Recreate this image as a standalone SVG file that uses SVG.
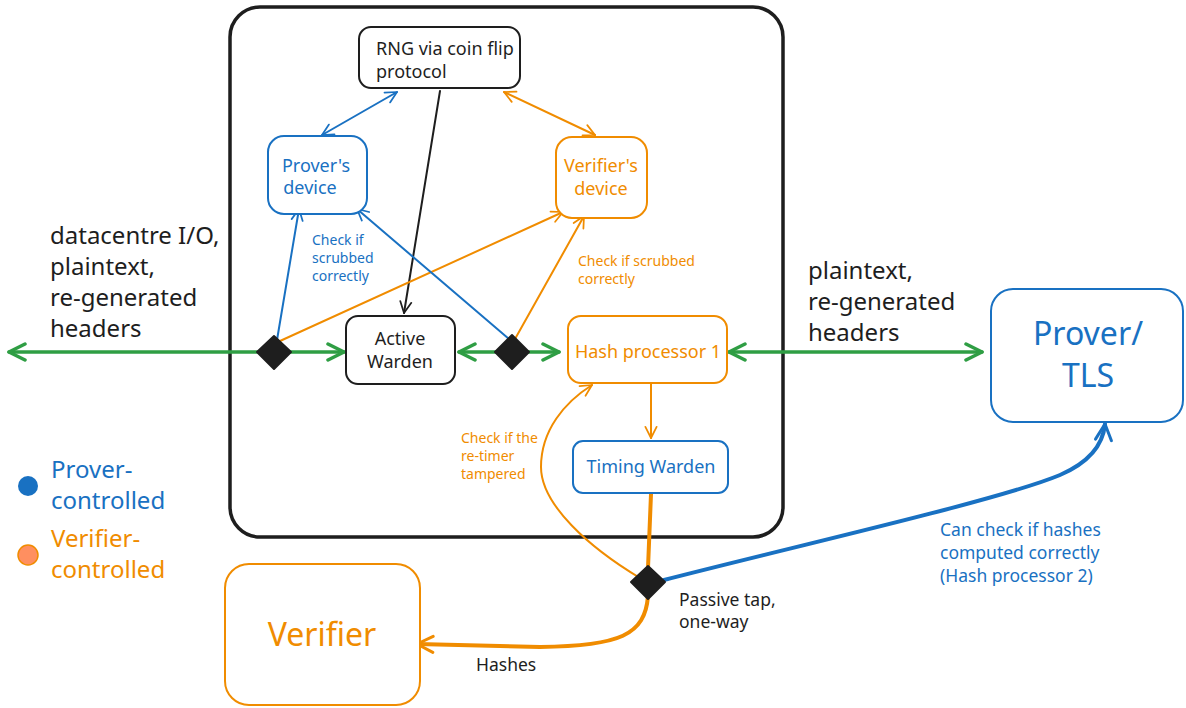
<svg xmlns="http://www.w3.org/2000/svg" width="1186" height="708" viewBox="0 0 1186 708">
<style>
text{font-family:"Noto Sans","Open Sans",sans-serif;}
.k{fill:#1e1e1e}.b{fill:#1971c2}.o{fill:#f08c00}
.box{fill:#fff;stroke-width:2}
.kb{stroke:#1e1e1e}.bb{stroke:#1971c2}.ob{stroke:#f08c00}
.ln{fill:none;stroke-linecap:round;stroke-linejoin:round}
.m{font-size:18px}.s{font-size:14px}.t{font-size:17.5px}.l{font-size:24px}.xl{font-size:32px}
.c{text-anchor:middle}
</style>
<defs>
<marker id="ag" viewBox="0 0 20 20" refX="18" refY="10" markerWidth="20" markerHeight="20" markerUnits="userSpaceOnUse" orient="auto-start-reverse"><path d="M2,2 L18,10 L2,18" fill="none" stroke="#2f9e44" stroke-width="3.5" stroke-linecap="round" stroke-linejoin="round"/></marker>
<marker id="ab" viewBox="0 0 20 20" refX="18" refY="10" markerWidth="14" markerHeight="14" markerUnits="userSpaceOnUse" orient="auto-start-reverse"><path d="M2,2 L18,10 L2,18" fill="none" stroke="#1971c2" stroke-width="2.5" stroke-linecap="round" stroke-linejoin="round"/></marker>
<marker id="ao" viewBox="0 0 20 20" refX="18" refY="10" markerWidth="14" markerHeight="14" markerUnits="userSpaceOnUse" orient="auto-start-reverse"><path d="M2,2 L18,10 L2,18" fill="none" stroke="#f08c00" stroke-width="2.5" stroke-linecap="round" stroke-linejoin="round"/></marker>
<marker id="ak" viewBox="0 0 20 20" refX="18" refY="10" markerWidth="14" markerHeight="14" markerUnits="userSpaceOnUse" orient="auto-start-reverse"><path d="M2,2 L18,10 L2,18" fill="none" stroke="#1e1e1e" stroke-width="2.5" stroke-linecap="round" stroke-linejoin="round"/></marker>
<marker id="aob" viewBox="0 0 20 20" refX="18" refY="10" markerWidth="20" markerHeight="20" markerUnits="userSpaceOnUse" orient="auto-start-reverse"><path d="M2,2 L18,10 L2,18" fill="none" stroke="#f08c00" stroke-width="3" stroke-linecap="round" stroke-linejoin="round"/></marker>
<marker id="abb" viewBox="0 0 20 20" refX="18" refY="10" markerWidth="20" markerHeight="20" markerUnits="userSpaceOnUse" orient="auto-start-reverse"><path d="M2,2 L18,10 L2,18" fill="none" stroke="#1971c2" stroke-width="3" stroke-linecap="round" stroke-linejoin="round"/></marker>
</defs>

<g id="container"><rect x="230" y="7" width="553" height="530" rx="30" fill="none" stroke="#1e1e1e" stroke-width="3.5"/></g>

<g id="connectors" class="ln">
<path d="M440,91 L404,313" stroke="#1e1e1e" stroke-width="2" marker-end="url(#ak)"/>
<path d="M322,135 L397,92" stroke="#1971c2" stroke-width="2" marker-start="url(#ab)" marker-end="url(#ab)"/>
<path d="M504,92 L595,135" stroke="#f08c00" stroke-width="2" marker-start="url(#ao)" marker-end="url(#ao)"/>
<path d="M277,340 L299,209" stroke="#1971c2" stroke-width="2" marker-end="url(#ab)"/>
<path d="M280,341 L563,212" stroke="#f08c00" stroke-width="2" marker-end="url(#ao)"/>
<path d="M509,339 L357,209" stroke="#1971c2" stroke-width="2" marker-end="url(#ab)"/>
<path d="M515,339 L584,216" stroke="#f08c00" stroke-width="2" marker-end="url(#ao)"/>
<path d="M651,384 L651,438" stroke="#f08c00" stroke-width="2" marker-end="url(#ao)"/>
<path d="M640,578 C590,548 541,505 541,467 C541,430 565,402 592,385" stroke="#f08c00" stroke-width="2" marker-end="url(#ao)"/>
<path d="M651,494 L648,568" stroke="#f08c00" stroke-width="4"/>
<path d="M648,596 C645,635 620,646 540,647 L417,644" stroke="#f08c00" stroke-width="4" marker-end="url(#aob)"/>
<path d="M664,580 C800,545 1000,500 1060,475 C1090,462 1103,445 1105,424" stroke="#1971c2" stroke-width="4" marker-end="url(#abb)"/>
<path d="M9,352 L344,352" stroke="#2f9e44" stroke-width="3.5" marker-start="url(#ag)" marker-end="url(#ag)"/>
<path d="M459,352 L559,352" stroke="#2f9e44" stroke-width="3.5" marker-start="url(#ag)" marker-end="url(#ag)"/>
<path d="M729,352 L982,352" stroke="#2f9e44" stroke-width="3.5" marker-start="url(#ag)" marker-end="url(#ag)"/>
</g>

<g id="rng"><rect class="box kb" x="359" y="27" width="161" height="61" rx="12"/><text class="m k" x="376" y="55">RNG via coin flip</text><text class="m k" x="376" y="78">protocol</text></g>
<g id="provers-device"><rect class="box bb" x="268" y="136" width="99" height="78" rx="16"/><text class="m b c" x="316" y="172">Prover's</text><text class="m b c" x="310" y="194">device</text></g>
<g id="verifiers-device"><rect class="box ob" x="556" y="137" width="91" height="81" rx="16"/><text class="m o c" x="601" y="172">Verifier's</text><text class="m o c" x="601" y="195">device</text></g>
<g id="active-warden"><rect class="box kb" x="346" y="316" width="109" height="68" rx="12"/><text class="m k c" x="400" y="345">Active</text><text class="m k c" x="400" y="368">Warden</text></g>
<g id="hash-processor-1"><rect class="box ob" x="568" y="316" width="159" height="67" rx="13"/><text class="m o c" x="648" y="358">Hash processor 1</text></g>
<g id="timing-warden"><rect class="box bb" x="573" y="441" width="155" height="52" rx="10"/><text class="m b c" x="651" y="473">Timing Warden</text></g>
<g id="prover-tls"><rect class="box bb" x="991" y="289" width="192" height="133" rx="22" stroke-width="3"/><text class="xl b c" x="1088" y="345">Prover/</text><text class="xl b c" x="1088" y="387">TLS</text></g>
<g id="verifier"><rect class="box ob" x="225" y="564" width="195" height="141" rx="24" stroke-width="3"/><text class="xl o c" x="322" y="646">Verifier</text></g>

<g id="diamonds" fill="#1e1e1e" stroke="#1e1e1e" stroke-width="2" stroke-linejoin="round">
<polygon points="274,336 291,352 274,369 257,352"/>
<polygon points="512,335 529,352 512,369 495,352"/>
<polygon points="648,566 665,582 648,599 631,582"/>
</g>

<g id="labels">
<text class="s b" x="312" y="245">Check if</text><text class="s b" x="312" y="263">scrubbed</text><text class="s b" x="312" y="281">correctly</text>
<text class="s o" x="578" y="266">Check if scrubbed</text><text class="s o" x="578" y="284">correctly</text>
<text class="s o" x="461" y="443">Check if the</text><text class="s o" x="461" y="461">re-timer</text><text class="s o" x="461" y="479">tampered</text>
<text class="t b" x="940" y="536">Can check if hashes</text><text class="t b" x="940" y="559">computed correctly</text><text class="t b" x="940" y="582">(Hash processor 2)</text>
<text class="t k" x="679" y="606">Passive tap,</text><text class="t k" x="679" y="628">one-way</text>
<text class="t k" x="476" y="671">Hashes</text>
<text class="l k" x="50" y="244">datacentre I/O,</text><text class="l k" x="50" y="275">plaintext,</text><text class="l k" x="50" y="306">re-generated</text><text class="l k" x="50" y="337">headers</text>
<text class="l k" x="808" y="279">plaintext,</text><text class="l k" x="808" y="310">re-generated</text><text class="l k" x="808" y="341">headers</text>
</g>

<g id="legend">
<circle cx="28" cy="486" r="10" fill="#1971c2"/>
<text class="l b" x="51" y="478">Prover-</text><text class="l b" x="51" y="509">controlled</text>
<circle cx="28" cy="555" r="10" fill="#ff8f60" stroke="#f08c00" stroke-width="1.5"/>
<text class="l o" x="51" y="547">Verifier-</text><text class="l o" x="51" y="578">controlled</text>
</g>
</svg>
